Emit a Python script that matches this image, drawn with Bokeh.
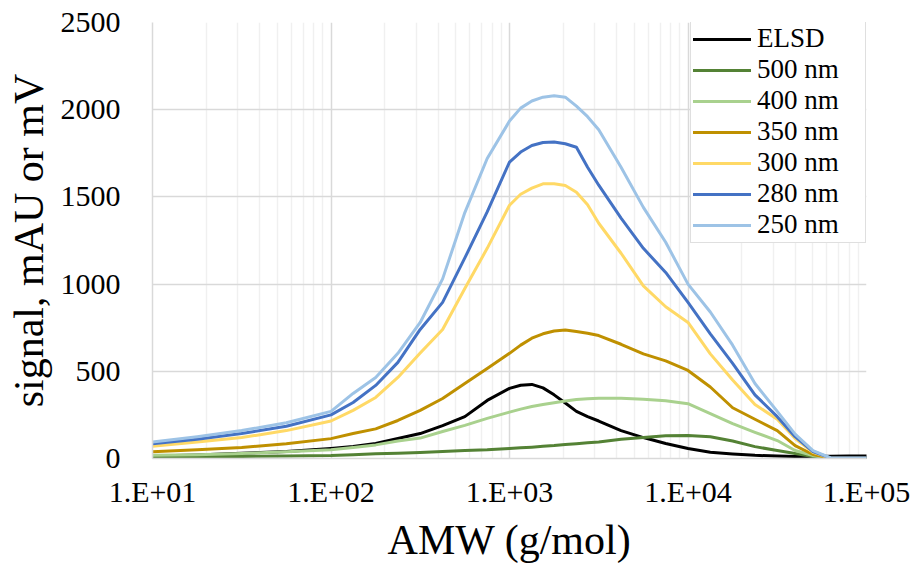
from bokeh.plotting import figure
from bokeh.models import FixedTicker, Legend, LegendItem, Range1d
from bokeh.embed import file_html
from bokeh.resources import INLINE

# ---- data ----
amw = [10, 17.8, 31.6, 56.2, 100, 133, 178, 237, 316, 422, 562, 750, 1000, 1155,
       1334, 1540, 1778, 2054, 2371, 2738, 3162, 4217, 5623, 7499, 10000, 13335,
       17783, 23714, 31623, 39811, 50119, 63096, 79433, 100000]
elsd = [15, 20, 30, 40, 58, 69, 86, 115, 143, 189, 240, 333, 402, 420, 425, 405,
        365, 318, 270, 240, 215, 160, 120, 86, 57, 36, 26, 18, 14, 12, 11, 13, 14, 14]
nm500 = [10, 11, 12, 14, 17, 22, 27, 30, 34, 40, 46, 50, 57, 61, 65, 70, 74, 80,
         85, 90, 95, 110, 120, 130, 132, 125, 100, 68, 46, 29, 11, 0, 0, 0]
nm400 = [18, 22, 29, 38, 50, 63, 78, 100, 117, 155, 190, 230, 266, 283, 298, 310,
         320, 330, 338, 342, 345, 345, 340, 331, 314, 257, 200, 150, 103, 46, 17, 0, 0, 0]
nm350 = [38, 50, 63, 85, 114, 143, 170, 218, 276, 344, 430, 516, 603, 650, 690,
         715, 731, 737, 728, 718, 705, 655, 600, 560, 505, 410, 291, 225, 160, 74,
         23, 0, 0, 0]
nm300 = [70, 95, 120, 160, 215, 276, 350, 465, 605, 740, 975, 1205, 1452, 1515,
         1550, 1575, 1575, 1565, 1527, 1455, 1349, 1177, 990, 870, 780, 600, 450,
         310, 225, 115, 35, 2, 2, 2]
nm280 = [85, 110, 143, 185, 250, 321, 419, 551, 740, 895, 1150, 1414, 1700, 1757,
         1795, 1812, 1815, 1805, 1785, 1670, 1567, 1378, 1205, 1067, 895, 715, 545,
         365, 240, 125, 40, 2, 2, 2]
nm250 = [95, 125, 160, 205, 270, 373, 465, 603, 780, 1030, 1410, 1720, 1935, 2009,
         2050, 2072, 2080, 2072, 2020, 1960, 1885, 1670, 1440, 1240, 1000, 840, 650,
         430, 270, 140, 45, 3, 3, 3]

series_names = ["ELSD", "500 nm", "400 nm", "350 nm", "300 nm", "280 nm", "250 nm"]
series_values = [elsd, nm500, nm400, nm350, nm300, nm280, nm250]
series_colors = ["#000000", "#548235", "#A9D18E", "#BF9000", "#FFD966", "#4472C4", "#9DC3E6"]

x_ticks = [10, 100, 1000, 10000, 100000]
x_tick_labels = ["1.E+01", "1.E+02", "1.E+03", "1.E+04", "1.E+05"]
y_ticks = [0, 500, 1000, 1500, 2000, 2500]

FONT = "Liberation Serif"

p = figure(width=915, height=567, x_axis_type="log",
           x_range=Range1d(10, 100000), y_range=Range1d(0, 2500),
           output_backend="svg", toolbar_location=None,
           min_border_left=152, min_border_right=49,
           min_border_top=22, min_border_bottom=109)
p.outline_line_color = None
p.background_fill_color = "white"
p.border_fill_color = "white"

minor = [m * 10 ** e for e in range(1, 5) for m in range(2, 10)]
xt = FixedTicker(ticks=x_ticks, minor_ticks=minor)
yt = FixedTicker(ticks=y_ticks)
p.xaxis.ticker = xt
p.yaxis.ticker = yt
p.xgrid.ticker = xt
p.ygrid.ticker = yt

p.xgrid.grid_line_color = "#d9d9d9"
p.xgrid.grid_line_width = 1.5
p.xgrid.minor_grid_line_color = "#f0f0f0"
p.xgrid.minor_grid_line_width = 1.5
p.ygrid.grid_line_color = "#d9d9d9"
p.ygrid.grid_line_width = 1.5

p.xaxis.major_label_overrides = {t: l for t, l in zip(x_ticks, x_tick_labels)}

for ax in (p.xaxis, p.yaxis):
    ax.major_tick_line_color = None
    ax.minor_tick_line_color = None
    ax.major_tick_out = 0
    ax.major_tick_in = 0
    ax.minor_tick_out = 0
    ax.axis_line_color = "#d9d9d9"
    ax.axis_line_width = 1.5
    ax.major_label_text_font = FONT
    ax.major_label_text_font_size = "30px"
    ax.major_label_text_color = "#000000"
    ax.axis_label_text_font = FONT
    ax.axis_label_text_font_size = "42px"
    ax.axis_label_text_font_style = "normal"
    ax.axis_label_text_color = "#000000"

p.xaxis.axis_label = "AMW (g/mol)"
p.yaxis.axis_label = "signal, mAU or mV"
p.xaxis.major_label_standoff = 16
p.xaxis.axis_label_standoff = 6
p.yaxis.major_label_standoff = 32
p.yaxis.axis_label_standoff = 6

items = []
for name, vals, col in zip(series_names, series_values, series_colors):
    r = p.line(amw, vals, line_color=col, line_width=3, line_join="round", line_cap="round")
    items.append(LegendItem(label=name, renderers=[r]))

legend = Legend(items=items, location=(538, 215))
legend.label_text_font = FONT
legend.label_text_font_size = "27px"
legend.label_text_color = "#000000"
legend.glyph_width = 58
legend.glyph_height = 28
legend.label_height = 28
legend.label_width = 106
legend.label_standoff = 6
legend.spacing = 0
legend.padding = 2
legend.margin = 0
legend.border_line_color = "#bfbfbf"
legend.border_line_width = 1.5
legend.background_fill_color = "white"
legend.background_fill_alpha = 1.0
p.add_layout(legend)

open("out.html", "w").write(file_html(p, INLINE))
